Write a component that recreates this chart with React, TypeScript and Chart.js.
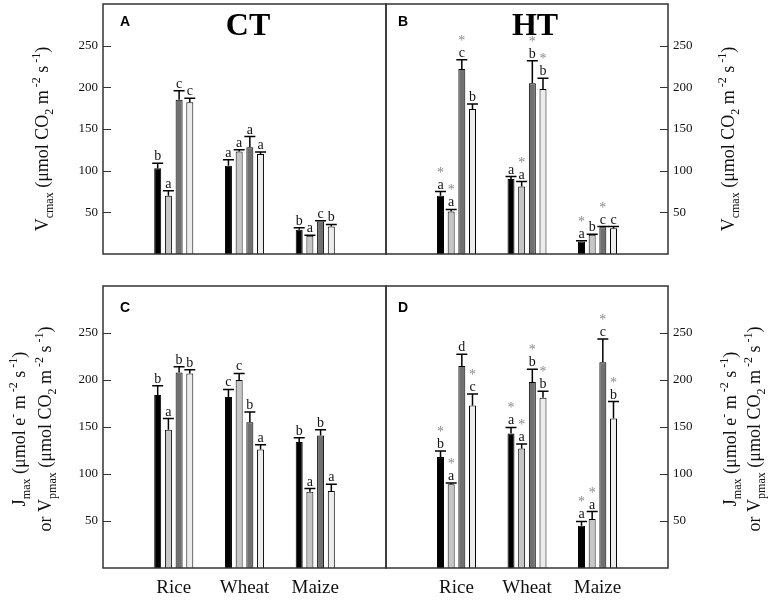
import React, { useEffect, useRef } from 'react';
import { Chart, registerables } from 'chart.js';
Chart.register(...registerables);

// ---------- data ----------
const categories = ['Rice', 'Wheat', 'Maize'];
const xLabels = ['', ...categories, ''];
const yTicks = [50, 100, 150, 200, 250];
const seriesColors = ['#000000', '#c6c6c6', '#707070', '#ececec'];

// series order in every panel: black, light grey, dark grey, near-white
// Panel A: Vcmax, CT
const A_mean = [[103, 106, 29], [70, 123, 22], [185, 128, 39], [182, 120, 33]];
const A_se = [[6, 7, 2.5], [6, 2, 0.6], [11, 13, 1], [5, 2.5, 2.5]];
const A_letters = [['b', 'a', 'b'], ['a', 'a', 'a'], ['c', 'a', 'c'], ['c', 'a', 'b']];
const A_stars = [[0, 0, 0], [0, 0, 0], [0, 0, 0], [0, 0, 0]];

// Panel B: Vcmax, HT
const B_mean = [[70, 90, 15], [51, 81, 23], [222, 205, 32], [174, 198, 31]];
const B_se = [[5, 3, 1], [2.5, 6, 0.7], [11, 27, 1], [6, 13, 2]];
const B_letters = [['a', 'a', 'a'], ['a', 'a', 'b'], ['c', 'b', 'c'], ['b', 'b', 'c']];
const B_stars = [[1, 0, 1], [1, 1, 0], [1, 1, 1], [0, 1, 0]];

// Panel C: Jmax / Vpmax, CT
const C_mean = [[184, 182, 134], [147, 200, 81], [208, 155, 141], [207, 126, 82]];
const C_se = [[10, 8, 4.5], [12, 7, 3.5], [6, 11, 6], [4, 5, 7]];
const C_letters = [['b', 'c', 'b'], ['a', 'c', 'a'], ['b', 'b', 'b'], ['b', 'a', 'a']];
const C_stars = [[0, 0, 0], [0, 0, 0], [0, 0, 0], [0, 0, 0]];

// Panel D: Jmax / Vpmax, HT
const D_mean = [[118, 143, 45], [89, 127, 52], [215, 198, 219], [173, 181, 159]];
const D_se = [[6.5, 6.5, 4.5], [1.5, 5, 8], [12.5, 13.5, 24.5], [12, 7, 18]];
const D_letters = [['b', 'a', 'a'], ['a', 'a', 'a'], ['d', 'b', 'c'], ['c', 'b', 'b']];
const D_stars = [[1, 1, 1], [1, 1, 1], [0, 1, 1], [1, 1, 1]];

type Seg = [string, number]; // 0 normal, 1 subscript, 2 superscript
const vcTitle: Seg[] = [['V', 0], ['cmax', 1], [' (μmol CO', 0], ['2', 1], [' m', 0], [' -2', 2], [' s', 0], [' -1', 2], [')', 0]];
const jTitle1: Seg[] = [['J', 0], ['max', 1], [' (μmol e', 0], ['-', 2], [' m', 0], [' -2', 2], [' s', 0], [' -1', 2], [')', 0]];
const jTitle2: Seg[] = [['or V', 0], ['pmax', 1], [' (μmol CO', 0], ['2', 1], [' m', 0], [' -2', 2], [' s', 0], [' -1', 2], [')', 0]];

const panels = [
  { tag: 'A', heading: 'CT', col: 0, row: 0, mean: A_mean, se: A_se, letters: A_letters, stars: A_stars },
  { tag: 'B', heading: 'HT', col: 1, row: 0, mean: B_mean, se: B_se, letters: B_letters, stars: B_stars },
  { tag: 'C', heading: '', col: 0, row: 1, mean: C_mean, se: C_se, letters: C_letters, stars: C_stars },
  { tag: 'D', heading: '', col: 1, row: 1, mean: D_mean, se: D_se, letters: D_letters, stars: D_stars },
];

const W = 774;
const H = 600;
const SERIF = '"Liberation Serif", "Times New Roman", serif';
const SANS = '"Liberation Sans", Arial, sans-serif';

function drawRotated(ctx: CanvasRenderingContext2D, segs: Seg[], cx: number, cy: number, size: number) {
  const small = Math.round(size * 0.68);
  ctx.save();
  ctx.translate(cx, cy);
  ctx.rotate(-Math.PI / 2);
  let total = 0;
  const widths = segs.map(([t, k]) => {
    ctx.font = `${k ? small : size}px ${SERIF}`;
    const w = ctx.measureText(t).width;
    total += w;
    return w;
  });
  let x = -total / 2;
  ctx.textAlign = 'left';
  ctx.textBaseline = 'alphabetic';
  ctx.fillStyle = '#111';
  const base = size * 0.33;
  segs.forEach(([t, k], i) => {
    ctx.font = `${k ? small : size}px ${SERIF}`;
    const dy = k === 1 ? size * 0.3 : k === 2 ? -size * 0.45 : 0;
    ctx.fillText(t, x, base + dy);
    x += widths[i];
  });
  ctx.restore();
}

function panelPlugin(p: any) {
  return {
    id: 'panel' + p.tag,
    afterDatasetsDraw(chart: any) {
      const ctx: CanvasRenderingContext2D = chart.ctx;
      const ys = chart.scales.y;
      ctx.save();
      p.mean.forEach((series: number[], si: number) => {
        const meta = chart.getDatasetMeta(si);
        series.forEach((v: number, ci: number) => {
          const el = meta.data[ci + 1];
          if (!el) return;
          const x = el.x;
          const yTop = ys.getPixelForValue(v);
          const yCap = ys.getPixelForValue(v + p.se[si][ci]);
          ctx.strokeStyle = '#000';
          ctx.lineWidth = 1.5;
          ctx.beginPath();
          ctx.moveTo(x, yTop);
          ctx.lineTo(x, yCap);
          ctx.moveTo(x - 5.5, yCap);
          ctx.lineTo(x + 5.5, yCap);
          ctx.stroke();
          ctx.fillStyle = '#111';
          ctx.font = `14px ${SERIF}`;
          ctx.textAlign = 'center';
          ctx.textBaseline = 'alphabetic';
          ctx.fillText(p.letters[si][ci], x, yCap - 3);
          if (p.stars[si][ci]) {
            ctx.fillStyle = '#8a8a8a';
            ctx.font = `14px ${SERIF}`;
            ctx.fillText('*', x, yCap - 15);
          }
        });
      });
      ctx.restore();
    },
    afterDraw(chart: any) {
      const ctx: CanvasRenderingContext2D = chart.ctx;
      const a = chart.chartArea;
      const ys = chart.scales.y;
      ctx.save();
      ctx.strokeStyle = '#333';
      ctx.lineWidth = 1.5;
      ctx.strokeRect(a.left, a.top, a.right - a.left, a.bottom - a.top);
      ctx.lineWidth = 1;
      ctx.beginPath();
      yTicks.forEach((v) => {
        const y = Math.round(ys.getPixelForValue(v)) + 0.5;
        if (p.col === 0) {
          ctx.moveTo(a.left, y);
          ctx.lineTo(a.left + 8, y);
        } else {
          ctx.moveTo(a.right - 8, y);
          ctx.lineTo(a.right, y);
        }
      });
      ctx.stroke();
      // panel tag
      ctx.fillStyle = '#000';
      ctx.font = `bold 14px ${SANS}`;
      ctx.textAlign = 'left';
      ctx.textBaseline = 'alphabetic';
      ctx.fillText(p.tag, a.left + (p.col === 0 ? 17 : 12), a.top + (p.row === 0 ? 22 : 26));
      if (p.heading) {
        ctx.font = `bold 32px ${SERIF}`;
        ctx.textAlign = 'center';
        ctx.fillText(p.heading, p.col === 0 ? 248 : 535, 35);
      }
      // axis titles
      const size = 18;
      if (p.row === 0) {
        drawRotated(ctx, vcTitle, p.col === 0 ? 42 : 728, (a.top + a.bottom) / 2 + 10, size);
      } else {
        drawRotated(ctx, jTitle1, p.col === 0 ? 19 : 730, (a.top + a.bottom) / 2 + 2, size);
        drawRotated(ctx, jTitle2, p.col === 0 ? 45 : 754, (a.top + a.bottom) / 2 + 2, size);
      }
      ctx.restore();
    },
  };
}

function makeConfig(p: any): any {
  const isLeft = p.col === 0;
  const isTop = p.row === 0;
  const areaLeft = isLeft ? 103 : 386;
  const areaRight = isLeft ? 386 : 668;
  const areaTop = isTop ? 4 : 286;
  const areaBottom = isTop ? 286 : 568;
  const xAxisH = 32;
  return {
    type: 'bar',
    data: {
      labels: xLabels,
      datasets: p.mean.map((m: number[], i: number) => ({
        data: [null, ...m, null],
        backgroundColor: seriesColors[i],
        borderColor: '#000',
        borderWidth: 1,
        categoryPercentage: 0.605,
        barPercentage: 0.654,
      })),
    },
    options: {
      responsive: false,
      animation: false,
      events: [],
      layout: {
        padding: {
          left: isLeft ? 0 : areaLeft,
          right: isLeft ? W - areaRight : 0,
          top: areaTop,
          bottom: isTop ? H - areaBottom : H - areaBottom - xAxisH,
        },
      },
      plugins: { legend: { display: false }, tooltip: { enabled: false }, title: { display: false } },
      scales: {
        x: {
          type: 'category',
          offset: false,
          display: !isTop,
          grid: { display: false, drawTicks: false },
          border: { display: false },
          ticks: { padding: 9, autoSkip: false, maxRotation: 0, color: '#111', font: { family: SERIF, size: 19 } },
          afterFit: (s: any) => {
            s.height = xAxisH;
            s.paddingLeft = 0;
            s.paddingRight = 0;
          },
        },
        y: {
          position: isLeft ? 'left' : 'right',
          min: 0,
          max: 300,
          grid: { display: false, drawTicks: false },
          border: { display: false },
          ticks: { padding: 5, color: '#111', font: { family: SERIF, size: 13 } },
          afterBuildTicks: (s: any) => {
            s.ticks = yTicks.map((v) => ({ value: v }));
          },
          afterFit: (s: any) => {
            s.width = isLeft ? areaLeft : W - areaRight;
            s.paddingTop = 0;
            s.paddingBottom = 0;
          },
        },
      },
    },
    plugins: [panelPlugin(p)],
  };
}

export default function App() {
  const r0 = useRef<HTMLCanvasElement>(null);
  const r1 = useRef<HTMLCanvasElement>(null);
  const r2 = useRef<HTMLCanvasElement>(null);
  const r3 = useRef<HTMLCanvasElement>(null);
  const refs = [r0, r1, r2, r3];
  useEffect(() => {
    const charts = panels.map((p, i) => new Chart(refs[i].current as HTMLCanvasElement, makeConfig(p)));
    return () => charts.forEach((c) => c.destroy());
  }, []);
  return (
    <div style={{ position: 'absolute', left: 0, top: 0, width: W, height: H, background: '#fff', overflow: 'hidden' }}>
      {panels.map((p, i) => (
        <canvas
          key={p.tag}
          ref={refs[i]}
          width={W}
          height={H}
          style={{ position: 'absolute', left: 0, top: 0, width: W, height: H }}
        />
      ))}
    </div>
  );
}
